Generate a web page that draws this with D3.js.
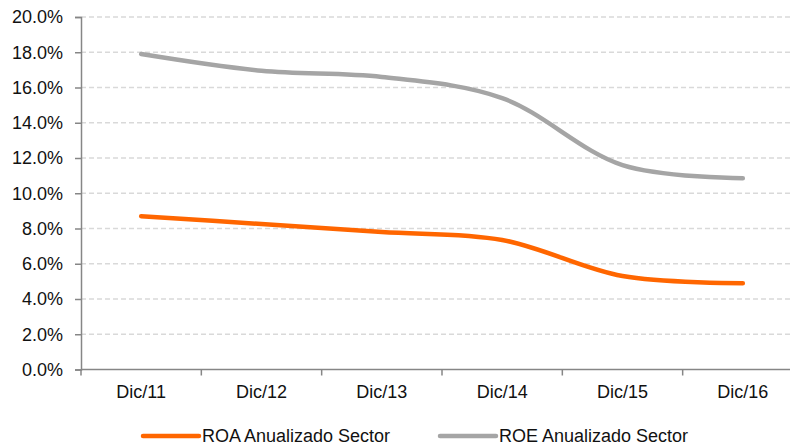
<!DOCTYPE html>
<html>
<head>
<meta charset="utf-8">
<script src="https://cdn.jsdelivr.net/npm/d3@7"></script>
<style>
  body { margin: 0; background: #fff; }
  svg { display: block; font-family: "Liberation Sans", Arial, sans-serif; }
</style>
</head>
<body>
<svg id="chart" width="790" height="446"></svg>
<script>
// data
var categories = ["Dic/11", "Dic/12", "Dic/13", "Dic/14", "Dic/15", "Dic/16"];
var roa = [8.7, 8.25, 7.8, 7.35, 5.3, 4.9];
var roe = [17.9, 16.95, 16.6, 15.4, 11.6, 10.85];
var yTicks = [0, 2, 4, 6, 8, 10, 12, 14, 16, 18, 20];
var seriesNames = ["ROA Anualizado Sector", "ROE Anualizado Sector"];
var colors = ["#FF6600", "#A5A5A5"];

var svg = d3.select("#chart"),
    plotL = 81, plotR = 803, plotT = 17, plotB = 369.5;

var x = d3.scaleBand().domain(categories).range([plotL, plotR]);
var y = d3.scaleLinear().domain([0, 20]).range([plotB, plotT]);

// gridlines
svg.append("g").selectAll("line")
    .data(yTicks.filter(function (d) { return d > 0; }))
    .enter().append("line")
    .attr("x1", plotL).attr("x2", 790)
    .attr("y1", function (d) { return y(d); })
    .attr("y2", function (d) { return y(d); })
    .attr("stroke", "#D9D9D9")
    .attr("stroke-width", 1.5)
    .attr("stroke-dasharray", "5,3");

// y axis
var yAxis = d3.axisLeft(y).tickValues(yTicks)
    .tickFormat(function (d) { return d.toFixed(1) + "%"; })
    .tickSize(6).tickPadding(12);
var gy = svg.append("g").attr("transform", "translate(" + plotL + ",0)").call(yAxis);
gy.select(".domain").attr("stroke", "#868686").attr("stroke-width", 1.5);
gy.selectAll(".tick line").attr("stroke", "#868686").attr("stroke-width", 1.5);
gy.selectAll("text").attr("font-size", 18).attr("fill", "#111")
    .attr("font-family", "Liberation Sans, Arial, sans-serif");

// x axis: ticks sit between the categories
svg.append("line")
    .attr("x1", plotL).attr("x2", 790)
    .attr("y1", plotB).attr("y2", plotB)
    .attr("stroke", "#868686").attr("stroke-width", 1.5);
svg.append("g").selectAll("line")
    .data(categories)
    .enter().append("line")
    .attr("x1", function (d) { return x(d); })
    .attr("x2", function (d) { return x(d); })
    .attr("y1", plotB).attr("y2", plotB + 6)
    .attr("stroke", "#868686").attr("stroke-width", 1.5);
svg.append("g").selectAll("text")
    .data(categories)
    .enter().append("text")
    .attr("x", function (d) { return x(d) + x.bandwidth() / 2; })
    .attr("y", 398)
    .attr("text-anchor", "middle")
    .attr("font-size", 18)
    .attr("fill", "#111")
    .text(function (d) { return d; });

// lines
var line = d3.line()
    .x(function (d, i) { return x(categories[i]) + x.bandwidth() / 2; })
    .y(function (d) { return y(d); })
    .curve(d3.curveCatmullRom.alpha(0.5));

[roa, roe].forEach(function (s, i) {
    svg.append("path")
        .attr("d", line(s))
        .attr("fill", "none")
        .attr("stroke", colors[i])
        .attr("stroke-width", 4.5)
        .attr("stroke-linecap", "round");
});

// legend
var legX = [143, 440];
seriesNames.forEach(function (name, i) {
    svg.append("line")
        .attr("x1", legX[i]).attr("x2", legX[i] + 56)
        .attr("y1", 436).attr("y2", 436)
        .attr("stroke", colors[i]).attr("stroke-width", 4.5)
        .attr("stroke-linecap", "round");
    svg.append("text")
        .attr("x", legX[i] + 59).attr("y", 442)
        .attr("font-size", 18)
        .attr("fill", "#111")
        .text(name);
});
</script>
</body>
</html>
